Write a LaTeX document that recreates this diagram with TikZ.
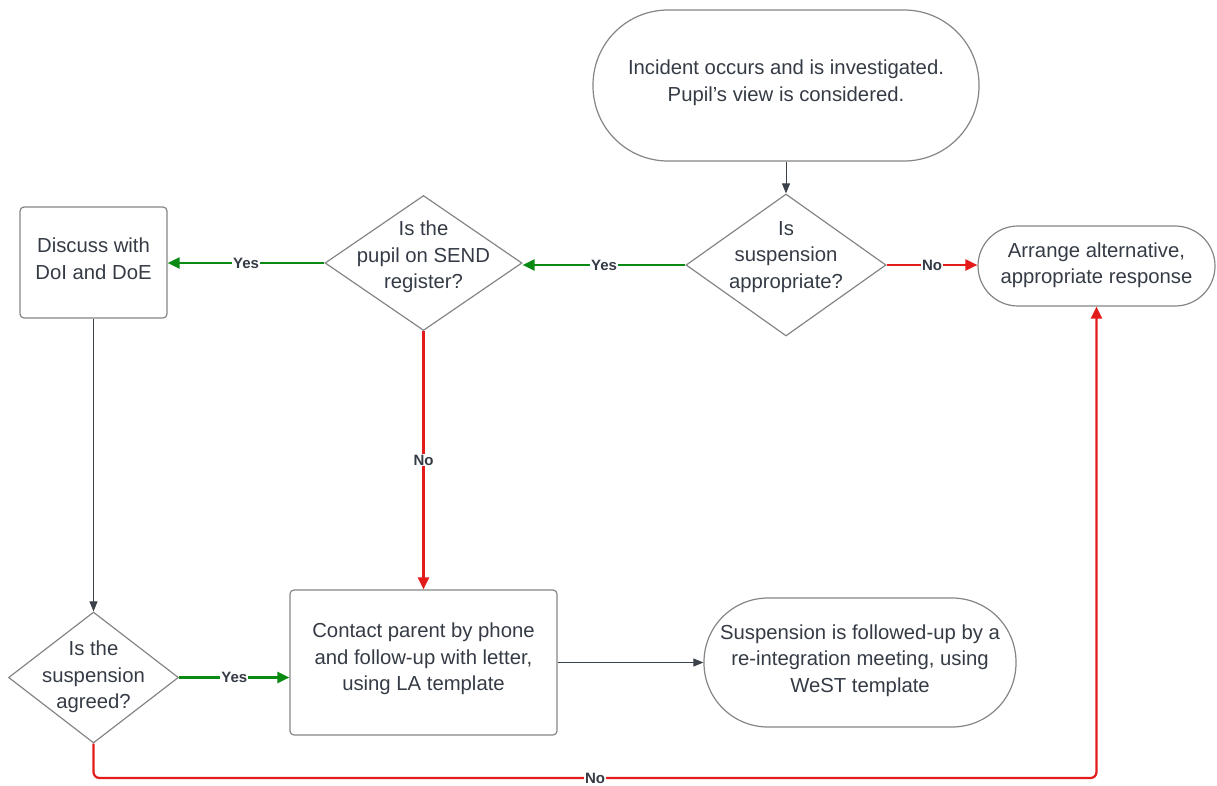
\documentclass[tikz,border=0pt]{standalone}
\usepackage{fontspec}
\setmainfont{Liberation Sans}
\usetikzlibrary{arrows.meta,shapes.geometric}
\definecolor{txtc}{HTML}{353B45}
\definecolor{edgec}{HTML}{858585}
\definecolor{ygreen}{HTML}{0A8A12}
\definecolor{nred}{HTML}{E31B1B}
\definecolor{garrow}{HTML}{3B4149}
\begin{document}
\begin{tikzpicture}[x=1pt,y=-1pt,
  every node/.style={text=txtc},
  shapebox/.style={draw=edgec, line width=1.2pt, rounded corners=4pt, inner sep=0pt},
  stad/.style={draw=edgec, line width=1.2pt, inner sep=0pt},
  dia/.style={draw=edgec, line width=1.2pt, diamond, inner sep=0pt},
  txt/.style={align=center, font=\fontsize{20.3}{26.5}\selectfont, inner sep=0pt},
  lbl/.style={fill=white, font=\fontsize{15}{17}\selectfont\bfseries, text=txtc, inner sep=1pt},
  yesarrow/.style={draw=ygreen, line width=2.2pt, -{Triangle[length=12pt,width=11pt]}},
  noarrow/.style={draw=nred, line width=2.2pt, -{Triangle[length=12pt,width=11pt]}},
  plainarrow/.style={draw=garrow, line width=0.9pt, -{Triangle[length=10pt,width=8pt]}}
]
\useasboundingbox (0,0) rectangle (1217,785);

% shapes
\node[stad, rounded corners=75pt, minimum width=386pt, minimum height=151pt] (inc) at (786,85.5) {};
\node[txt] at (786,82.5) {Incident occurs and is investigated.\\Pupil's view is considered.};

\node[dia, minimum width=200pt, minimum height=142pt] (d1) at (786,265) {};
\node[txt] at (786,257) {Is\\suspension\\appropriate?};

\node[stad, rounded corners=40pt, minimum width=237pt, minimum height=80pt] (arr) at (1096.5,266) {};
\node[txt] at (1096.5,265) {Arrange alternative,\\appropriate response};

\node[dia, minimum width=197pt, minimum height=135pt] (d2) at (423.5,263) {};
\node[txt] at (423.5,257) {Is the\\pupil on SEND\\register?};

\node[shapebox, minimum width=147pt, minimum height=111pt] (disc) at (93.5,262.5) {};
\node[txt] at (93.5,258.5) {Discuss with\\DoI and DoE};

\node[dia, minimum width=170pt, minimum height=131pt] (d3) at (93.5,677.5) {};
\node[txt] at (93.5,677) {Is the\\suspension\\agreed?};

\node[shapebox, minimum width=267pt, minimum height=145pt] (cont) at (423.5,662.5) {};
\node[txt] at (423.5,659) {Contact parent by phone\\and follow-up with letter,\\using LA template};

\node[stad, rounded corners=64pt, minimum width=312pt, minimum height=129pt] (sus) at (860,662.5) {};
\node[txt] at (860,660.5) {Suspension is followed-up by a\\re-integration meeting, using\\WeST template};

\coordinate (bot) at (0,778);

% connectors
\draw[plainarrow] (inc.south) -- (d1.north);
\draw[yesarrow] (d1.west) -- node[lbl]{Yes} (d1.west -| d2.east);
\draw[noarrow] (d1.east) -- node[lbl]{No} (d1.east -| arr.west);
\draw[yesarrow] (d2.west) -- node[lbl]{Yes} (d2.west -| disc.east);
\draw[noarrow] (d2.south) -- node[lbl]{No} (cont.north);
\draw[plainarrow] (disc.south) -- (d3.north);
\draw[yesarrow] (d3.east) -- node[lbl]{Yes} (d3.east -| cont.west);
\draw[plainarrow] (cont.east) -- (sus.west);
\draw[noarrow, rounded corners=6pt] (d3.south) -- (d3.south |- bot) -- node[lbl]{No} (arr.south |- bot) -- (arr.south);
\end{tikzpicture}
\end{document}
